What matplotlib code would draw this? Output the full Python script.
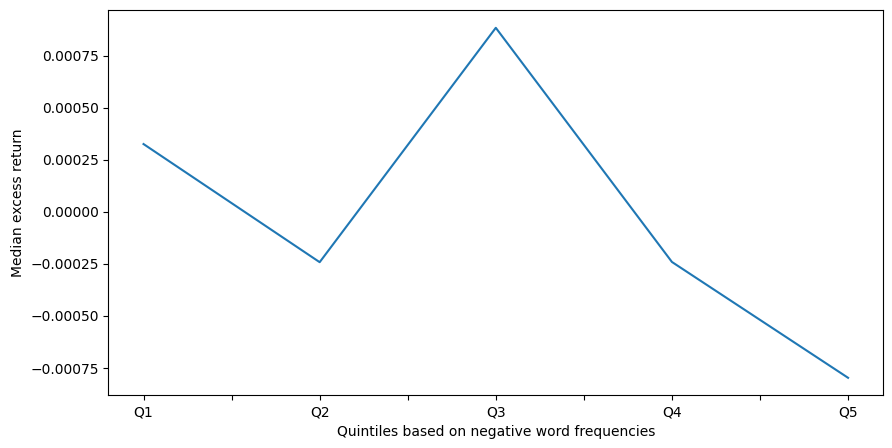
import matplotlib
matplotlib.use("Agg")
import matplotlib.pyplot as plt

quintiles = ["Q1", "Q2", "Q3", "Q4", "Q5"]
median_excess = [0.000325, -0.000242, 0.000883, -0.000241, -0.000797]

fig = plt.figure(figsize=(8.92, 4.48), dpi=100)
ax = fig.add_axes([108.3 / 892, 52.7 / 448, 775.0 / 892, 385.0 / 448])

x = list(range(len(quintiles)))
ax.plot(x, median_excess, color="#1f77b4")

# pandas-style ticks: labels on integers, blank ticks halfway between
ticks = [i * 0.5 for i in range(2 * len(quintiles) - 1)]
labels = [quintiles[int(t)] if t == int(t) else "" for t in ticks]
ax.set_xticks(ticks)
ax.set_xticklabels(labels)

ax.set_xlabel("Quintiles based on negative word frequencies")
ax.set_ylabel("Median excess return")

fig.savefig("out.png", dpi=100)
